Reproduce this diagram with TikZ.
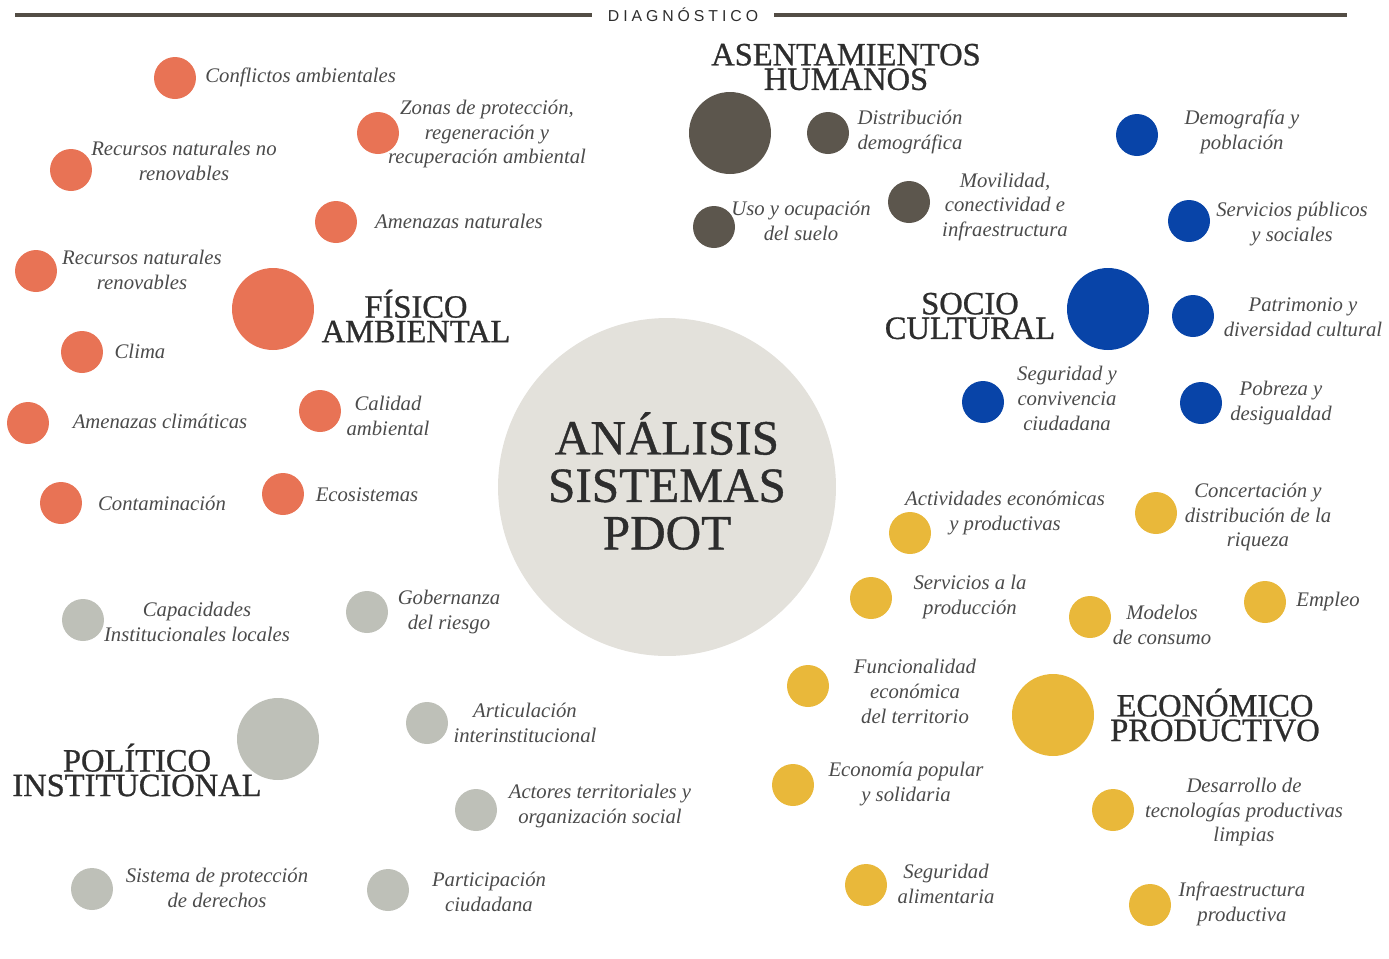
\documentclass[tikz,border=0pt]{standalone}
\usepackage{fontspec}
\setmainfont{Liberation Serif}
\newfontfamily\diagfont[LetterSpace=25]{Liberation Sans}
\newfontfamily\headfont[FakeBold=0.8]{Liberation Serif}

\definecolor{fisico}{RGB}{232,115,85}
\definecolor{asent}{RGB}{92,86,77}
\definecolor{socio}{RGB}{8,68,168}
\definecolor{econ}{RGB}{233,184,58}
\definecolor{polit}{RGB}{190,192,184}
\definecolor{centro}{RGB}{227,225,219}
\definecolor{labeltext}{RGB}{75,75,75}
\definecolor{headtext}{RGB}{45,45,45}

\begin{document}
\begin{tikzpicture}[x=0.02cm,y=-0.02cm,
    subdot/.style={circle,fill=#1,minimum size=0.84cm,inner sep=0pt},
    catdot/.style={circle,fill=#1,minimum size=1.64cm,inner sep=0pt},
    lbl/.style={align=center,inner sep=0pt,text=labeltext,
      font=\itshape\fontsize{11.8}{14.2}\selectfont},
    head/.style={align=center,inner sep=0pt,text=headtext,
      font=\headfont\fontsize{18.5}{14}\selectfont},
    rule/.style={line width=2.3pt,draw=asent!90!black}]
  \useasboundingbox (0,0) rectangle (1389,958);

  % Header
  \node[inner xsep=9pt,text=headtext,font=\diagfont\fontsize{9}{10}\selectfont] (diag) at (683,15) {DIAGNÓSTICO};
  \coordinate (ruleL) at (15,15);
  \coordinate (ruleR) at (1347,15);
  \draw[rule] (ruleL) -- (diag.west);
  \draw[rule] (diag.east) -- (ruleR);

  % Centre
  \node[circle,fill=centro,minimum size=6.76cm,inner sep=0pt] (centro) at (667,487) {};
  \node[align=center,inner sep=0pt,text=headtext,font=\headfont\fontsize{28}{27}\selectfont] (titulo) at (667,481) {ANÁLISIS\\SISTEMAS\\PDOT};

  % Fisico ambiental
  \node[catdot=fisico] (fis) at (273,309) {};
  \node[head] (fish) at (416,316) {FÍSICO\\AMBIENTAL};
  \node[subdot=fisico] (f1) at (175,78) {};
  \node[lbl,anchor=west] (f1l) at (205,77) {Conflictos ambientales};
  \node[subdot=fisico] (f2) at (378,133) {};
  \node[lbl] (f2l) at (487,134) {Zonas de protección,\\regeneración y\\recuperación ambiental};
  \node[subdot=fisico] (f3) at (71,170) {};
  \node[lbl] (f3l) at (184,161) {Recursos naturales no\\renovables};
  \node[subdot=fisico] (f4) at (336,222) {};
  \node[lbl] (f4l) at (459,221) {Amenazas naturales};
  \node[subdot=fisico] (f5) at (36,271) {};
  \node[lbl] (f5l) at (142,270) {Recursos naturales\\renovables};
  \node[subdot=fisico] (f6) at (82,352) {};
  \node[lbl] (f6l) at (140,351) {Clima};
  \node[subdot=fisico] (f7) at (28,423) {};
  \node[lbl] (f7l) at (160,421) {Amenazas climáticas};
  \node[subdot=fisico] (f8) at (320,411) {};
  \node[lbl] (f8l) at (388,416) {Calidad\\ambiental};
  \node[subdot=fisico] (f9) at (61,503) {};
  \node[lbl] (f9l) at (162,503) {Contaminación};
  \node[subdot=fisico] (f10) at (283,494) {};
  \node[lbl] (f10l) at (367,495) {Ecosistemas};

  % Asentamientos humanos
  \node[catdot=asent] (ase) at (730,133) {};
  \node[head] (aseh) at (846,67) {ASENTAMIENTOS\\HUMANOS};
  \node[subdot=asent] (a1) at (828,133) {};
  \node[lbl] (a1l) at (910,132) {Distribución\\demográfica};
  \node[subdot=asent] (a2) at (714,227) {};
  \node[lbl] (a2l) at (801,221) {Uso y ocupación\\del suelo};
  \node[subdot=asent] (a3) at (909,202) {};
  \node[lbl] (a3l) at (1005,207) {Movilidad,\\conectividad e\\infraestructura};

  % Socio cultural
  \node[catdot=socio] (soc) at (1108,309) {};
  \node[head] (soch) at (970,316) {SOCIO\\CULTURAL};
  \node[subdot=socio] (s1) at (1137,135) {};
  \node[lbl] (s1l) at (1242,132) {Demografía y\\población};
  \node[subdot=socio] (s2) at (1189,221) {};
  \node[lbl] (s2l) at (1292,224) {Servicios públicos\\y sociales};
  \node[subdot=socio] (s3) at (1193,316) {};
  \node[lbl] (s3l) at (1303,317) {Patrimonio y\\diversidad cultural};
  \node[subdot=socio] (s4) at (983,402) {};
  \node[lbl] (s4l) at (1067,398) {Seguridad y\\convivencia\\ciudadana};
  \node[subdot=socio] (s5) at (1201,403) {};
  \node[lbl] (s5l) at (1281,403) {Pobreza y\\desigualdad};

  % Economico productivo
  \node[catdot=econ] (eco) at (1053,715) {};
  \node[head] (ecoh) at (1215,715) {ECONÓMICO\\PRODUCTIVO};
  \node[subdot=econ] (e1) at (910,533) {};
  \node[lbl] (e1l) at (1005,513) {Actividades económicas\\y productivas};
  \node[subdot=econ] (e2) at (1156,513) {};
  \node[lbl] (e2l) at (1258,517) {Concertación y\\distribución de la\\riqueza};
  \node[subdot=econ] (e3) at (871,598) {};
  \node[lbl] (e3l) at (970,597) {Servicios a la\\producción};
  \node[subdot=econ] (e4) at (1090,617) {};
  \node[lbl] (e4l) at (1162,625) {Modelos\\de consumo};
  \node[subdot=econ] (e5) at (1265,602) {};
  \node[lbl] (e5l) at (1328,601) {Empleo};
  \node[subdot=econ] (e6) at (808,686) {};
  \node[lbl] (e6l) at (915,691) {Funcionalidad\\económica\\del territorio};
  \node[subdot=econ] (e7) at (793,785) {};
  \node[lbl] (e7l) at (906,784) {Economía popular\\y solidaria};
  \node[subdot=econ] (e8) at (1113,810) {};
  \node[lbl] (e8l) at (1244,812) {Desarrollo de\\tecnologías productivas\\limpias};
  \node[subdot=econ] (e9) at (866,885) {};
  \node[lbl] (e9l) at (946,884) {Seguridad\\alimentaria};
  \node[subdot=econ] (e10) at (1150,905) {};
  \node[lbl] (e10l) at (1242,904) {Infraestructura\\productiva};

  % Politico institucional
  \node[catdot=polit] (pol) at (278,739) {};
  \node[head] (polh) at (137,770) {POLÍTICO\\INSTITUCIONAL};
  \node[subdot=polit] (p1) at (83,620) {};
  \node[lbl] (p1l) at (197,622) {Capacidades\\Institucionales locales};
  \node[subdot=polit] (p2) at (367,612) {};
  \node[lbl] (p2l) at (449,612) {Gobernanza\\del riesgo};
  \node[subdot=polit] (p3) at (427,723) {};
  \node[lbl] (p3l) at (525,723) {Articulación\\interinstitucional};
  \node[subdot=polit] (p4) at (476,810) {};
  \node[lbl] (p4l) at (600,806) {Actores territoriales y\\organización social};
  \node[subdot=polit] (p5) at (92,889) {};
  \node[lbl] (p5l) at (217,888) {Sistema de protección\\de derechos};
  \node[subdot=polit] (p6) at (388,890) {};
  \node[lbl] (p6l) at (489,892) {Participación\\ciudadana};
\end{tikzpicture}
\end{document}
